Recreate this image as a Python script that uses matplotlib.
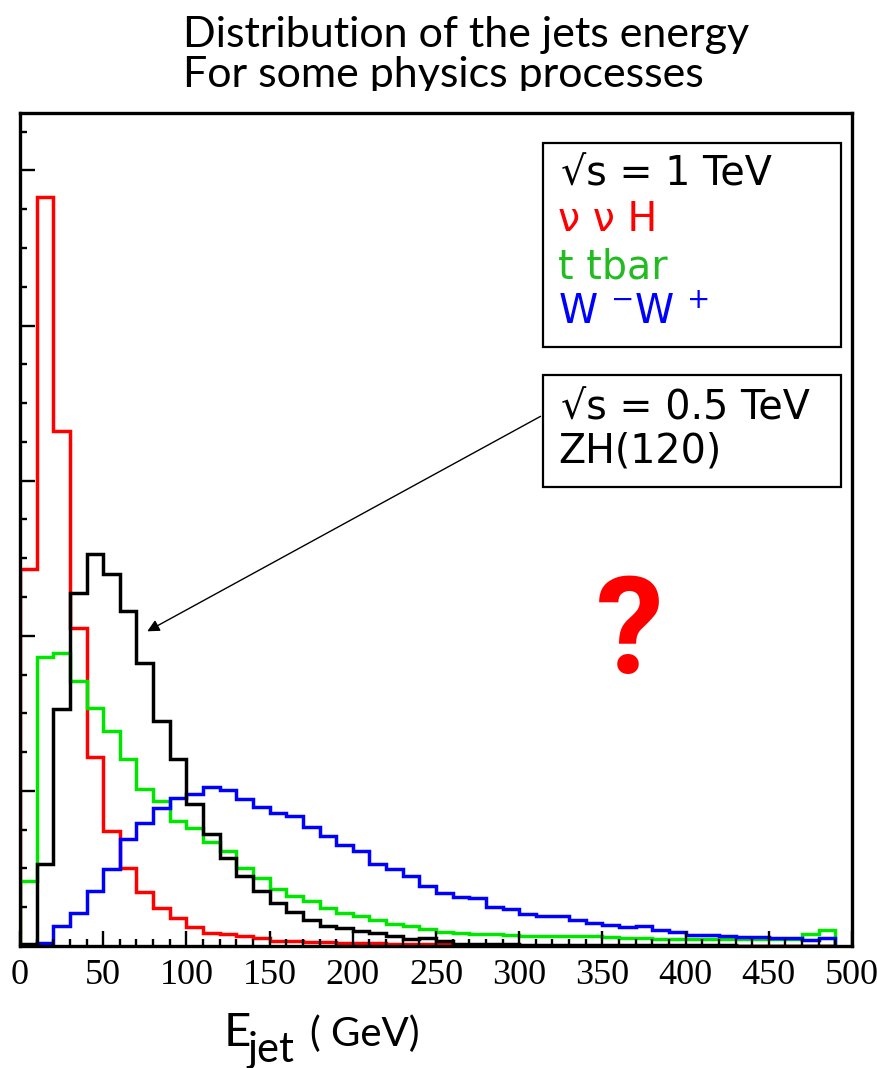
import matplotlib
matplotlib.use("Agg")
import matplotlib.pyplot as plt
from matplotlib.patches import Rectangle
from matplotlib.transforms import Bbox
from matplotlib.ticker import MultipleLocator
import numpy as np

W, H = 877, 1068

# bin edges, 10 GeV bins from 0 to 490 GeV
edges = np.arange(0, 500, 10)

# arbitrary units
nunuH = [243, 483, 332, 205, 122, 74, 50, 35, 24.5, 18,
         12.5, 8.6, 7.7, 6.2, 5.2, 3.5, 3.0, 2.8, 2.5, 2.2,
         2.0, 1.8, 1.6, 1.5, 1.2, 1.0, 0.6, 0.4, 0.3, 0.2,
         0.2, 0.1, 0.1, 0.1, 0, 0, 0, 0, 0, 0,
         0, 0, 0, 0, 0, 0, 0, 0, 0]
ttbar = [42, 186, 189, 171, 153.5, 138.5, 120.5, 101, 93.4, 80.5,
         76, 67, 61, 50.4, 44, 36.5, 32, 29, 24.7, 21.5,
         19.3, 16.5, 14.4, 12.9, 10.7, 9.2, 8.6, 7.9, 7.5, 7.0,
         6.5, 6.4, 6.4, 6.2, 6.4, 5.5, 5.0, 5.0, 4.8, 4.5,
         4.5, 4.5, 4.5, 4.5, 4.5, 4.6, 4.8, 7.5, 10.3]
ww = [0.5, 2, 13, 21.5, 35.4, 49.4, 68.7, 79.5, 89, 95.5,
      98, 102.5, 100.5, 94.5, 89.5, 86, 84, 77, 71, 65,
      61, 52.6, 49.4, 45, 38.7, 34.4, 31.6, 31, 25, 23.6,
      20.8, 19.3, 19.3, 16.5, 15, 13.5, 12.2, 12.9, 10.1, 9.2,
      7, 7, 6.4, 5.8, 5.8, 5.4, 5.4, 3.6, 4.9]
zh = [1, 52.6, 152.5, 227.6, 252.4, 239.5, 215.8, 182.5, 145, 120.3,
      91.5, 72.5, 57, 45, 35.4, 28, 22, 17, 13, 11.5,
      9.7, 8.6, 6.4, 4.5, 5.0, 3.2, 1.5, 1.5, 1.0, 1.0,
      0.8, 0.8, 0.7, 0.7, 0.6, 0.6, 0.5, 0.5, 0.5, 0.5,
      0.4, 0.4, 0.4, 0.3, 0.3, 0.3, 0.3, 0.3, 0.3]

RED = "#ff0000"
GREEN = "#00e600"
BLUE = "#0000ff"


def fx(px):
    return px / W


def fy(py):
    # pixel measured from the top
    return 1 - py / H


fig = plt.figure(figsize=(W / 100, H / 100), dpi=100)
ax = fig.add_axes([fx(20), fy(946), fx(852) - fx(20), fy(113) - fy(946)])

lw = 2.5
ax.stairs(nunuH, edges, color=RED, lw=lw)
ax.stairs(ttbar, edges, color=GREEN, lw=lw)
ax.stairs(ww, edges, color=BLUE, lw=lw)
ax.stairs(zh, edges, color="black", lw=lw)

ax.set_xlim(0, 500)
ax.set_ylim(0, 537)
for s in ax.spines.values():
    s.set_linewidth(2.4)

ax.xaxis.set_major_locator(MultipleLocator(50))
ax.xaxis.set_minor_locator(MultipleLocator(10))
ax.yaxis.set_major_locator(MultipleLocator(100))
ax.yaxis.set_minor_locator(MultipleLocator(25))
ax.tick_params(axis="both", which="both", direction="in", width=1.7)
ax.tick_params(axis="both", which="major", length=10.5)
ax.tick_params(axis="both", which="minor", length=5)
ax.tick_params(axis="y", labelleft=False)
ax.tick_params(axis="x", pad=9)
for lab in ax.get_xticklabels():
    lab.set_fontfamily("Liberation Serif")
    lab.set_fontsize(26)

# title, second line cut off at the bottom like in the picture
tfont = ["Lato", "DejaVu Sans"]
fig.text(fx(183), fy(47), "Distribution of the jets energy", family=tfont,
         fontsize=31, va="baseline", ha="left")
t2 = fig.text(fx(183), fy(87), "For some physics processes", family=tfont,
              fontsize=31, va="baseline", ha="left")
t2.set_clip_box(Bbox.from_extents(0, H - 91, W, H))
t2.set_clip_on(True)

# legend boxes
lfont = "DejaVu Sans"
fig.patches.append(Rectangle((fx(543), fy(347)), fx(841) - fx(543), fy(143) - fy(347),
                             transform=fig.transFigure, fill=False, ec="black", lw=1.6))
fig.patches.append(Rectangle((fx(543), fy(487)), fx(841) - fx(543), fy(375) - fy(487),
                             transform=fig.transFigure, fill=False, ec="black", lw=1.6))
fs = 28.5
fig.text(fx(561), fy(186), "√s = 1 TeV", family=lfont, fontsize=fs, va="baseline")
fig.text(fx(558), fy(231), "ν ν H", family=lfont, fontsize=fs, va="baseline", color=RED)
fig.text(fx(558), fy(278), "t tbar", family=lfont, fontsize=fs, va="baseline", color="#22bb22")
fig.text(fx(558), fy(324), r"W $^{-}$W $^{+}$", family=lfont, fontsize=fs, va="baseline", color=BLUE)
fig.text(fx(561), fy(419), "√s = 0.5 TeV", family=lfont, fontsize=fs, va="baseline")
fig.text(fx(558), fy(463), "ZH(120)", family=lfont, fontsize=fs, va="baseline")

# arrow from the second box to the ZH histogram
ax.annotate("", xy=(75, 202), xycoords="data",
            xytext=(543, H - 415), textcoords="figure pixels",
            arrowprops=dict(arrowstyle="-|>", color="black", lw=1.0, mutation_scale=18))

fig.text(fx(630), fy(673), "?", family=["Roboto", "DejaVu Sans"], fontsize=98,
         weight="bold", color=RED, ha="center", va="baseline")

# x axis label
fig.text(fx(224), fy(1046), "E", family=tfont, fontsize=34, va="baseline")
fig.text(fx(247), fy(1062), "jet", family=tfont, fontsize=30, va="baseline")
fig.text(fx(310), fy(1046), "( GeV)", family=tfont, fontsize=29, va="baseline")

fig.savefig("out.png", dpi=100)
